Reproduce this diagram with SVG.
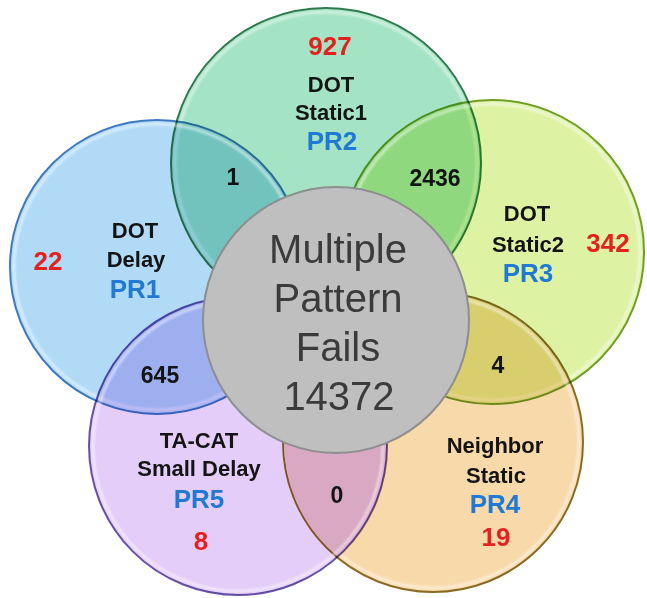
<svg xmlns="http://www.w3.org/2000/svg" width="647" height="598" viewBox="0 0 647 598">
  <defs>
    <filter id="soft" x="-10%" y="-10%" width="120%" height="120%">
      <feGaussianBlur stdDeviation="1.2"/>
    </filter>
    <!-- interior of the PR4 disc, used to tint the PR4/PR5 lens -->
    <clipPath id="inside-pr4">
      <circle cx="433" cy="442" r="149"/>
    </clipPath>
  </defs>
  <style>
    .disc { mix-blend-mode: multiply; stroke-width: 2; }
    .ring { mix-blend-mode: multiply; fill: none; stroke-width: 2; }
    .bevel { fill: none; stroke: #ffffff; stroke-width: 3; opacity: 0.5; filter: url(#soft); }
    text { font-family: "Liberation Sans", Arial, Helvetica, sans-serif; text-anchor: middle; }
    .lbl { font-weight: bold; font-size: 22px; fill: #141414; }
    .pr { font-weight: bold; font-size: 26px; fill: #2179d6; }
    .cnt { font-weight: bold; font-size: 26px; fill: #e3211f; }
    .ovl { font-weight: bold; font-size: 23px; fill: #141414; }
    .big { font-size: 40px; fill: #3b3b3b; }
  </style>

  <rect width="647" height="598" fill="#ffffff"/>

  <!-- PR2: DOT Static1 (top) -->
  <g id="node-pr2">
    <circle class="disc" cx="326" cy="163" r="155" fill="#a4e4c4" stroke="#2f7a4c"/>
    <circle class="bevel" cx="326" cy="163" r="151"/>
    <text class="cnt" x="330" y="55">927</text>
    <text class="lbl" x="331" y="92">DOT</text>
    <text class="lbl" x="331" y="120">Static1</text>
    <text class="pr" x="332" y="150">PR2</text>
  </g>

  <!-- PR1: DOT Delay (left) -->
  <g id="node-pr1">
    <circle class="disc" cx="157" cy="267" r="147" fill="#b1daf7" stroke="#3b78c4"/>
    <circle class="bevel" cx="157" cy="267" r="143"/>
    <text class="cnt" x="48" y="270">22</text>
    <text class="lbl" x="135" y="238">DOT</text>
    <text class="lbl" x="136" y="267">Delay</text>
    <text class="pr" x="135" y="298">PR1</text>
  </g>

  <!-- PR3: DOT Static2 (right) -->
  <g id="node-pr3">
    <circle class="disc" cx="492" cy="252" r="152" fill="#def2a4" stroke="#6e9f22"/>
    <circle class="bevel" cx="492" cy="252" r="148"/>
    <text class="lbl" x="527" y="221">DOT</text>
    <text class="lbl" x="528" y="252">Static2</text>
    <text class="pr" x="528" y="282">PR3</text>
    <text class="cnt" x="608" y="252">342</text>
  </g>

  <!-- PR4: Neighbor Static (bottom right) -->
  <g id="node-pr4">
    <circle class="disc" cx="433" cy="442" r="150" fill="#f8d9aa" stroke="#8a6a22"/>
    <circle class="bevel" cx="433" cy="442" r="146"/>
    <text class="lbl" x="495" y="453">Neighbor</text>
    <text class="lbl" x="496" y="483">Static</text>
    <text class="pr" x="495" y="513">PR4</text>
    <text class="cnt" x="496" y="546">19</text>
  </g>

  <!-- PR5: TA-CAT Small Delay (bottom left) -->
  <g id="node-pr5">
    <circle class="disc" cx="238" cy="446" r="149" fill="#e4cdf8" stroke="none"/>
    <circle cx="238" cy="446" r="149" fill="#d9a8c2" clip-path="url(#inside-pr4)"/>
    <circle class="bevel" cx="238" cy="446" r="145"/>
    <circle class="ring" cx="238" cy="446" r="149" stroke="#6a58a8"/>
    <text class="lbl" x="199" y="448">TA-CAT</text>
    <text class="lbl" x="199" y="476">Small Delay</text>
    <text class="pr" x="199" y="508">PR5</text>
    <text class="cnt" x="201" y="550">8</text>
  </g>

  <!-- pairwise overlap counts -->
  <g id="overlap-counts">
    <text class="ovl" x="233" y="185">1</text>
    <text class="ovl" x="435" y="186">2436</text>
    <text class="ovl" x="160" y="383">645</text>
    <text class="ovl" x="498" y="373">4</text>
    <text class="ovl" x="337" y="503">0</text>
  </g>

  <!-- centre: patterns failing in several groups -->
  <g id="node-multiple">
    <circle cx="336" cy="320" r="133" fill="#bfbfbf" stroke="#8e8e8e" stroke-width="2"/>
    <text class="big" x="338" y="263">Multiple</text>
    <text class="big" x="338" y="312">Pattern</text>
    <text class="big" x="338" y="361">Fails</text>
    <text class="big" x="339" y="410">14372</text>
  </g>
</svg>
